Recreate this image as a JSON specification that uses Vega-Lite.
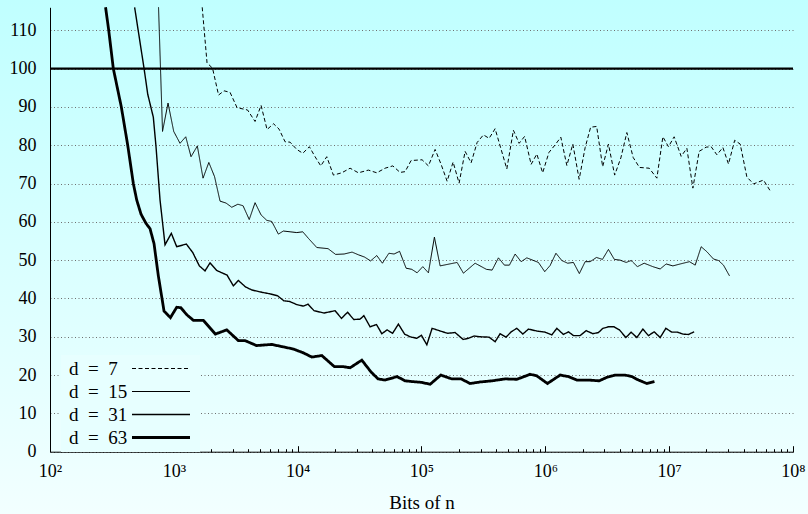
{
  "$schema": "https://vega.github.io/schema/vega-lite/v6.json",
  "width": 808,
  "height": 514,
  "autosize": {"type": "none"},
  "padding": 0,
  "background": "#e8ffff",
  "config": {
    "view": {"stroke": null, "fill": {"gradient": "linear", "x1": 0, "y1": 0, "x2": 0, "y2": 1, "stops": [{"offset": 0, "color": "#c0ffff"}, {"offset": 1, "color": "#f2ffff"}]}},
    "font": "Liberation Serif"
  },
  "datasets": {
    "curves": [
      {"d":"7","n":1695,"v":116},{"d":"7","n":1854,"v":101.5},{"d":"7","n":2054,"v":100.1},{"d":"7","n":2297,"v":93.1},{"d":"7","n":2544,"v":94.2},{"d":"7","n":2844,"v":93.8},{"d":"7","n":3240,"v":89.8},{"d":"7","n":3938,"v":89.2},{"d":"7","n":4528,"v":86.2},{"d":"7","n":5063,"v":90.4},{"d":"7","n":5660,"v":84.1},{"d":"7","n":6388,"v":85.6},{"d":"7","n":7076,"v":84.2},{"d":"7","n":7910,"v":80.9},{"d":"7","n":8682,"v":80.8},{"d":"7","n":9833,"v":78.9},{"d":"7","n":11000,"v":77.9},{"d":"7","n":12430,"v":79.6},{"d":"7","n":13820,"v":77},{"d":"7","n":15370,"v":74.6},{"d":"7","n":17180,"v":77},{"d":"7","n":19430,"v":72.2},{"d":"7","n":22710,"v":72.8},{"d":"7","n":26500,"v":74},{"d":"7","n":30930,"v":72.8},{"d":"7","n":37250,"v":73.5},{"d":"7","n":43540,"v":72.8},{"d":"7","n":50820,"v":74},{"d":"7","n":58650,"v":74.6},{"d":"7","n":67160,"v":72.9},{"d":"7","n":73700,"v":73.1},{"d":"7","n":82410,"v":76},{"d":"7","n":101100,"v":76.2},{"d":"7","n":113700,"v":74.6},{"d":"7","n":128800,"v":78.9},{"d":"7","n":144000,"v":75},{"d":"7","n":161000,"v":70.6},{"d":"7","n":180000,"v":75.6},{"d":"7","n":201200,"v":70.1},{"d":"7","n":225000,"v":78.4},{"d":"7","n":251600,"v":75.4},{"d":"7","n":281200,"v":80.7},{"d":"7","n":316200,"v":82.7},{"d":"7","n":351600,"v":81.8},{"d":"7","n":393100,"v":84.3},{"d":"7","n":488700,"v":73.8},{"d":"7","n":552400,"v":83.9},{"d":"7","n":614300,"v":80.5},{"d":"7","n":680400,"v":82.3},{"d":"7","n":768000,"v":75},{"d":"7","n":853700,"v":77.7},{"d":"7","n":951100,"v":72.8},{"d":"7","n":1069000,"v":78.1},{"d":"7","n":1207000,"v":80.2},{"d":"7","n":1334000,"v":82.1},{"d":"7","n":1492000,"v":74.7},{"d":"7","n":1668000,"v":80.3},{"d":"7","n":1875000,"v":71.1},{"d":"7","n":2097000,"v":79.4},{"d":"7","n":2322000,"v":84.7},{"d":"7","n":2597000,"v":84.9},{"d":"7","n":2903000,"v":74.4},{"d":"7","n":3233000,"v":80.3},{"d":"7","n":3629000,"v":72.2},{"d":"7","n":4073000,"v":76.7},{"d":"7","n":4553000,"v":83.3},{"d":"7","n":5120000,"v":76.8},{"d":"7","n":5756000,"v":74.2},{"d":"7","n":6894000,"v":74},{"d":"7","n":7956000,"v":71.4},{"d":"7","n":8895000,"v":82.2},{"d":"7","n":9870000,"v":79.6},{"d":"7","n":10970000,"v":82.2},{"d":"7","n":12500000,"v":77.1},{"d":"7","n":13900000,"v":79.2},{"d":"7","n":15540000,"v":68.8},{"d":"7","n":17470000,"v":78.4},{"d":"7","n":19900000,"v":79.5},{"d":"7","n":21840000,"v":79.6},{"d":"7","n":24280000,"v":77.5},{"d":"7","n":27150000,"v":79.4},{"d":"7","n":30130000,"v":75.1},{"d":"7","n":33820000,"v":81.3},{"d":"7","n":37460000,"v":80.3},{"d":"7","n":42420000,"v":71.7},{"d":"7","n":47970000,"v":69.9},{"d":"7","n":57770000,"v":70.9},{"d":"7","n":65450000,"v":68.1},
      {"d":"15","n":752.4,"v":116},{"d":"15","n":810.4,"v":83.6},{"d":"15","n":897.7,"v":91},{"d":"15","n":998,"v":83.6},{"d":"15","n":1122,"v":80.5},{"d":"15","n":1248,"v":82.2},{"d":"15","n":1377,"v":77},{"d":"15","n":1548,"v":79.8},{"d":"15","n":1721,"v":71.4},{"d":"15","n":1917,"v":75.5},{"d":"15","n":2132,"v":71.8},{"d":"15","n":2362,"v":65.4},{"d":"15","n":2640,"v":64.9},{"d":"15","n":2936,"v":63.8},{"d":"15","n":3289,"v":64.6},{"d":"15","n":3622,"v":64.2},{"d":"15","n":4064,"v":60.6},{"d":"15","n":4528,"v":65},{"d":"15","n":5063,"v":61.8},{"d":"15","n":5629,"v":60.4},{"d":"15","n":6177,"v":60.1},{"d":"15","n":6985,"v":56.8},{"d":"15","n":7666,"v":57.6},{"d":"15","n":8682,"v":57.4},{"d":"15","n":9833,"v":57.2},{"d":"15","n":11000,"v":57.4},{"d":"15","n":12200,"v":55.7},{"d":"15","n":14270,"v":53.3},{"d":"15","n":17600,"v":53},{"d":"15","n":20240,"v":51.5},{"d":"15","n":23710,"v":51.6},{"d":"15","n":27500,"v":52.1},{"d":"15","n":30930,"v":51.4},{"d":"15","n":34710,"v":50.8},{"d":"15","n":38800,"v":49.8},{"d":"15","n":43540,"v":51.2},{"d":"15","n":48340,"v":49.2},{"d":"15","n":54540,"v":51.8},{"d":"15","n":60070,"v":51.6},{"d":"15","n":66540,"v":52.3},{"d":"15","n":75100,"v":47.9},{"d":"15","n":83490,"v":47.6},{"d":"15","n":92150,"v":46.7},{"d":"15","n":102450,"v":48.3},{"d":"15","n":113700,"v":46.7},{"d":"15","n":127100,"v":56},{"d":"15","n":141300,"v":48.5},{"d":"15","n":193900,"v":49.4},{"d":"15","n":218000,"v":46.6},{"d":"15","n":271000,"v":49.2},{"d":"15","n":334400,"v":47.6},{"d":"15","n":371800,"v":47.4},{"d":"15","n":418100,"v":50.6},{"d":"15","n":467300,"v":48.7},{"d":"15","n":512900,"v":48.7},{"d":"15","n":570400,"v":51.6},{"d":"15","n":637600,"v":49.6},{"d":"15","n":708900,"v":50.6},{"d":"15","n":879700,"v":49.4},{"d":"15","n":989000,"v":47},{"d":"15","n":1093000,"v":48.6},{"d":"15","n":1218000,"v":51.8},{"d":"15","n":1359000,"v":49.9},{"d":"15","n":1514000,"v":49.2},{"d":"15","n":1687000,"v":49.4},{"d":"15","n":1882000,"v":46.5},{"d":"15","n":2097000,"v":49.6},{"d":"15","n":2301000,"v":49.6},{"d":"15","n":2587000,"v":50.7},{"d":"15","n":2892000,"v":50.2},{"d":"15","n":3233000,"v":52.8},{"d":"15","n":3608000,"v":50.2},{"d":"15","n":4020000,"v":50},{"d":"15","n":4495000,"v":49.4},{"d":"15","n":4932000,"v":49.9},{"d":"15","n":5545000,"v":48.3},{"d":"15","n":6283000,"v":49.2},{"d":"15","n":7384000,"v":48.3},{"d":"15","n":8459000,"v":47.7},{"d":"15","n":9459000,"v":49},{"d":"15","n":10710000,"v":48.5},{"d":"15","n":12270000,"v":49},{"d":"15","n":14590000,"v":49.6},{"d":"15","n":16220000,"v":48.7},{"d":"15","n":18140000,"v":53.5},{"d":"15","n":20160000,"v":52.2},{"d":"15","n":22790000,"v":50.3},{"d":"15","n":25020000,"v":49.9},{"d":"15","n":27450000,"v":48.7},{"d":"15","n":30700000,"v":45.9},
      {"d":"31","n":482.4,"v":116},{"d":"31","n":574.5,"v":100.1},{"d":"31","n":615.6,"v":93.3},{"d":"31","n":683,"v":87.3},{"d":"31","n":718.1,"v":79.6},{"d":"31","n":773.7,"v":65.7},{"d":"31","n":848.9,"v":54},{"d":"31","n":954.6,"v":57},{"d":"31","n":1055,"v":53.5},{"d":"31","n":1262,"v":54.2},{"d":"31","n":1421,"v":52},{"d":"31","n":1607,"v":48.5},{"d":"31","n":1786,"v":47.2},{"d":"31","n":1961,"v":49.3},{"d":"31","n":2221,"v":47.3},{"d":"31","n":2690,"v":46.1},{"d":"31","n":3024,"v":43.3},{"d":"31","n":3319,"v":44.7},{"d":"31","n":3795,"v":43},{"d":"31","n":4282,"v":42.2},{"d":"31","n":5158,"v":41.6},{"d":"31","n":5985,"v":41.2},{"d":"31","n":6881,"v":40.7},{"d":"31","n":7723,"v":39.4},{"d":"31","n":8635,"v":39.2},{"d":"31","n":9833,"v":38.4},{"d":"31","n":11120,"v":38},{"d":"31","n":12130,"v":38.5},{"d":"31","n":13570,"v":36.8},{"d":"31","n":16340,"v":36.2},{"d":"31","n":20050,"v":36.8},{"d":"31","n":22580,"v":34.8},{"d":"31","n":25300,"v":36.4},{"d":"31","n":28390,"v":34.5},{"d":"31","n":31920,"v":34.6},{"d":"31","n":34250,"v":35.5},{"d":"31","n":38450,"v":32.6},{"d":"31","n":43300,"v":33.2},{"d":"31","n":47800,"v":30.8},{"d":"31","n":52750,"v":31.8},{"d":"31","n":58410,"v":30.9},{"d":"31","n":65080,"v":33.3},{"d":"31","n":73030,"v":30.7},{"d":"31","n":80890,"v":30},{"d":"31","n":91620,"v":29.6},{"d":"31","n":99800,"v":30.4},{"d":"31","n":110400,"v":27.9},{"d":"31","n":121800,"v":32.2},{"d":"31","n":138800,"v":31.6},{"d":"31","n":162500,"v":30.9},{"d":"31","n":186800,"v":31.1},{"d":"31","n":216800,"v":29.3},{"d":"31","n":239200,"v":29.6},{"d":"31","n":266000,"v":30.2},{"d":"31","n":297400,"v":30},{"d":"31","n":351600,"v":29.9},{"d":"31","n":393100,"v":28.7},{"d":"31","n":431400,"v":30.8},{"d":"31","n":482500,"v":29.9},{"d":"31","n":529400,"v":31.3},{"d":"31","n":588700,"v":32.2},{"d":"31","n":658100,"v":30.7},{"d":"31","n":730300,"v":32},{"d":"31","n":853700,"v":31.5},{"d":"31","n":996300,"v":31.2},{"d":"31","n":1128000,"v":30.5},{"d":"31","n":1239000,"v":32.2},{"d":"31","n":1400000,"v":30.6},{"d":"31","n":1537000,"v":31.3},{"d":"31","n":1687000,"v":30.3},{"d":"31","n":1910000,"v":30.3},{"d":"31","n":2136000,"v":31.6},{"d":"31","n":2420000,"v":30.8},{"d":"31","n":2685000,"v":31.1},{"d":"31","n":2914000,"v":32.2},{"d":"31","n":3233000,"v":32.6},{"d":"31","n":3595000,"v":32.6},{"d":"31","n":3968000,"v":31.8},{"d":"31","n":4470000,"v":29.8},{"d":"31","n":4932000,"v":31.2},{"d":"31","n":5484000,"v":29.8},{"d":"31","n":6132000,"v":32},{"d":"31","n":6804000,"v":30.3},{"d":"31","n":7566000,"v":31.3},{"d":"31","n":8459000,"v":29.8},{"d":"31","n":9404000,"v":32.2},{"d":"31","n":10510000,"v":31.2},{"d":"31","n":11670000,"v":31.2},{"d":"31","n":12900000,"v":30.7},{"d":"31","n":14320000,"v":30.6},{"d":"31","n":15920000,"v":31.3},
      {"d":"63","n":281,"v":116},{"d":"63","n":298,"v":110},{"d":"63","n":324.6,"v":100},{"d":"63","n":376.6,"v":90},{"d":"63","n":424.2,"v":80},{"d":"63","n":470.9,"v":70},{"d":"63","n":501.5,"v":65.7},{"d":"63","n":543.3,"v":62},{"d":"63","n":596.2,"v":59.6},{"d":"63","n":642.5,"v":58.2},{"d":"63","n":692,"v":54.3},{"d":"63","n":749.7,"v":45.9},{"d":"63","n":833.4,"v":36.7},{"d":"63","n":938.7,"v":35},{"d":"63","n":1055,"v":37.7},{"d":"63","n":1137,"v":37.6},{"d":"63","n":1278,"v":35.7},{"d":"63","n":1437,"v":34.3},{"d":"63","n":1731,"v":34.3},{"d":"63","n":2164,"v":30.7},{"d":"63","n":2675,"v":31.8},{"d":"63","n":3319,"v":29},{"d":"63","n":3759,"v":29},{"d":"63","n":4656,"v":27.7},{"d":"63","n":6177,"v":28},{"d":"63","n":7551,"v":27.4},{"d":"63","n":9233,"v":26.8},{"d":"63","n":11120,"v":25.8},{"d":"63","n":13000,"v":24.7},{"d":"63","n":15660,"v":25.1},{"d":"63","n":19790,"v":22.2},{"d":"63","n":23390,"v":22.2},{"d":"63","n":26500,"v":21.9},{"d":"63","n":32950,"v":23.9},{"d":"63","n":39160,"v":20.8},{"d":"63","n":44610,"v":19},{"d":"63","n":50820,"v":18.7},{"d":"63","n":63530,"v":19.6},{"d":"63","n":73700,"v":18.5},{"d":"63","n":83970,"v":18.3},{"d":"63","n":100200,"v":18.1},{"d":"63","n":117400,"v":17.6},{"d":"63","n":143200,"v":20},{"d":"63","n":175700,"v":19},{"d":"63","n":208900,"v":19},{"d":"63","n":247000,"v":17.8},{"d":"63","n":297400,"v":18.2},{"d":"63","n":371800,"v":18.5},{"d":"63","n":473500,"v":19},{"d":"63","n":588700,"v":18.9},{"d":"63","n":753800,"v":20.2},{"d":"63","n":853700,"v":19.8},{"d":"63","n":1040000,"v":17.8},{"d":"63","n":1317000,"v":20},{"d":"63","n":1537000,"v":19.6},{"d":"63","n":1796000,"v":18.7},{"d":"63","n":2216000,"v":18.7},{"d":"63","n":2720000,"v":18.5},{"d":"63","n":3139000,"v":19.4},{"d":"63","n":3663000,"v":20},{"d":"63","n":4412000,"v":20},{"d":"63","n":4997000,"v":19.6},{"d":"63","n":5649000,"v":18.7},{"d":"63","n":6605000,"v":17.8},{"d":"63","n":7609000,"v":18.3}
    ]
  },
  "layer": [
    {
      "data": {"name": "curves"},
      "mark": {"type": "line", "clip": true},
      "encoding": {
        "x": {
          "field": "n", "type": "quantitative",
          "scale": {"type": "log", "domain": [100, 100000000], "nice": false, "range": [50, 793]},
          "axis": {
            "offset": -62.3,
            "values": [100,200,300,400,500,600,700,800,900,1000,2000,3000,4000,5000,6000,7000,8000,9000,10000,20000,30000,40000,50000,60000,70000,80000,90000,100000,200000,300000,400000,500000,600000,700000,800000,900000,1000000,2000000,3000000,4000000,5000000,6000000,7000000,8000000,9000000,10000000,20000000,30000000,40000000,50000000,60000000,70000000,80000000,90000000,100000000],
            "labelExpr": "datum.value == 100 ? '10²' : datum.value == 1000 ? '10³' : datum.value == 10000 ? '10⁴' : datum.value == 100000 ? '10⁵' : datum.value == 1000000 ? '10⁶' : datum.value == 10000000 ? '10⁷' : datum.value == 100000000 ? '10⁸' : ''",
            "title": "Bits of n",
            "grid": false,
            "tickSize": {"condition": {"test": "indexof([100,1000,10000,100000,1000000,10000000,100000000], datum.value) >= 0", "value": -6}, "value": -3},
            "tickColor": "#000",
            "tickWidth": 1,
            "domainColor": "#000",
            "domainWidth": 1,
            "labelPadding": 17,
            "labelFont": "Liberation Serif",
            "labelFontSize": 18,
            "labelColor": "#000",
            "labelOverlap": false,
            "labelFlush": false,
            "labelBound": false,
            "titleFont": "Liberation Serif",
            "titleFontSize": 19,
            "titleFontWeight": "normal",
            "titleColor": "#000",
            "titlePadding": 10
          }
        },
        "y": {
          "field": "v", "type": "quantitative",
          "scale": {"domain": [0, 116], "nice": false, "zero": true, "range": [451.7, 7.3]},
          "axis": {
            "offset": -50,
            "values": [0,10,20,30,40,50,60,70,80,90,100,110],
            "title": null,
            "grid": true,
            "gridDash": [1, 2.5],
            "gridColor": "#6e6e6e",
            "gridWidth": 1,
            "ticks": false,
            "labelPadding": 14,
            "labelFont": "Liberation Serif",
            "labelFontSize": 18,
            "labelColor": "#000",
            "domainColor": "#000",
            "domainWidth": 1
          }
        },
        "color": {
          "field": "d", "type": "ordinal",
          "scale": {"domain": ["7","15","31","63"], "range": ["#000","#000","#000","#000"]},
          "legend": {
            "title": null,
            "orient": "none",
            "legendX": 61,
            "legendY": 355,
            "padding": 4,
            "symbolType": "M28.75,0H57.75",
            "symbolSize": 16,
            "labelExpr": "'d\u2002=\u2002' + datum.label",
            "labelFont": "Liberation Serif",
            "labelFontSize": 19,
            "labelColor": "#000",
            "labelAlign": "left",
            "labelOffset": -15,
            "rowPadding": 3,
            "fillColor": "#e7ffff"
          }
        },
        "strokeDash": {
          "field": "d", "type": "ordinal",
          "scale": {"type": "ordinal", "domain": ["7","15","31","63"], "range": [[4,2.5],[1,0],[1,0],[1,0]]}
        },
        "strokeWidth": {
          "field": "d", "type": "ordinal",
          "scale": {"type": "ordinal", "domain": ["7","15","31","63"], "range": [1, 1, 1.4, 2.8]}
        }
      }
    },
    {
      "data": {"values": [{}]},
      "mark": {"type": "rule", "color": "#000", "strokeWidth": 2.2},
      "encoding": {"y": {"datum": 100}, "x": {"datum": 100}, "x2": {"datum": 100000000}}
    }
  ]
}
